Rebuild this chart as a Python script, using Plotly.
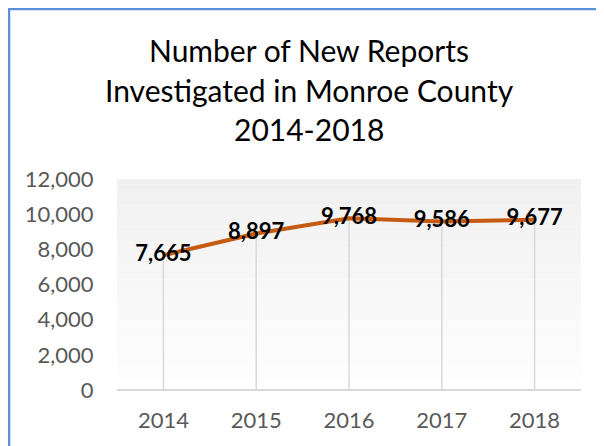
import plotly.graph_objects as go

years = ["2014", "2015", "2016", "2017", "2018"]
reports = [7665, 8897, 9768, 9586, 9677]
y_ticks = [0, 2000, 4000, 6000, 8000, 10000, 12000]
title_lines = ["Number of New Reports", "Investigated in Monroe County", "2014-2018"]

OFF = 8  # page body margin
W, H = 604 - OFF, 446 - OFF
L, R, T, B = 117 - OFF, 581 - OFF, 179 - OFF, 390 - OFF  # plot area pixel bounds in figure

def px_x(px):
    return (px - OFF - L) / (R - L)

def px_y(py):
    return (B - (py - OFF)) / (B - T)

fig = go.Figure()

# drop lines from axis to points
fig.add_trace(go.Scatter(
    x=years, y=reports, mode="markers",
    marker=dict(size=1, color="rgba(0,0,0,0)"),
    error_y=dict(type="data", symmetric=False, array=[0] * len(reports),
                 arrayminus=reports, width=0, color="#d9d9d9", thickness=1.5),
    hoverinfo="skip", showlegend=False,
))

fig.add_trace(go.Scatter(
    x=years, y=reports, mode="lines+text",
    line=dict(color="#C55A11", width=4),
    text=[f"{v:,}" for v in reports],
    textposition="middle center",
    textfont=dict(family="Lato", size=22, color="#000000", weight="bold"),
    showlegend=False,
))

shapes = []
# gradient background
n = 40
for i in range(n):
    t = i / (n - 1)
    c = int(round(0xF0 + (0xFE - 0xF0) * t))
    shapes.append(dict(type="rect", xref="x domain", yref="y domain",
                       x0=0, x1=1, y0=1 - (i + 1) / n, y1=1 - i / n,
                       fillcolor=f"rgb({c},{c},{c})", line=dict(width=0), layer="below"))
# bottom axis line
shapes.append(dict(type="line", xref="paper", yref="paper", x0=0, x1=1, y0=0, y1=0,
                   line=dict(color="#d9d9d9", width=2), layer="below"))
# blue border
shapes.append(dict(type="line", xref="paper", yref="paper",
                   x0=px_x(9), x1=px_x(9), y0=px_y(470), y1=px_y(8),
                   line=dict(color="#5B8FD9", width=2.5)))
shapes.append(dict(type="line", xref="paper", yref="paper",
                   x0=px_x(8), x1=px_x(620), y0=px_y(9), y1=px_y(9),
                   line=dict(color="#5B8FD9", width=2.5)))

annotations = []
for line_text, py in zip(title_lines, [50, 90, 129]):
    annotations.append(dict(text=line_text, xref="paper", yref="paper",
                            x=px_x(309), y=px_y(py), xanchor="center", yanchor="middle",
                            showarrow=False,
                            font=dict(family="Lato", size=30, color="#000000")))

fig.update_layout(
    width=W, height=H,
    margin=dict(l=L, r=W - R, t=T, b=H - B, pad=0),
    paper_bgcolor="white", plot_bgcolor="rgba(0,0,0,0)",
    shapes=shapes, annotations=annotations,
    font=dict(family="Lato", size=22, color="#595959"),
    xaxis=dict(type="category", range=[-0.5, 4.5], showgrid=False, zeroline=False,
               showline=False, ticks="outside", ticklen=11, tickcolor="rgba(0,0,0,0)",
               tickfont=dict(family="Lato", size=22, color="#595959"), fixedrange=True),
    yaxis=dict(range=[0, 12000], tickvals=y_ticks, tickformat=",d", showgrid=False,
               zeroline=False, showline=False, ticks="outside", ticklen=18,
               tickcolor="rgba(0,0,0,0)",
               tickfont=dict(family="Lato", size=22, color="#595959"), fixedrange=True),
)

fig.write_html("out.html")
